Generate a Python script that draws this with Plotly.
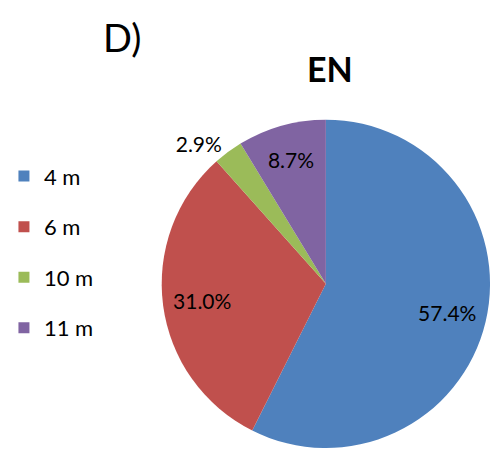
import plotly.graph_objects as go

labels = ["4 m", "6 m", "10 m", "11 m"]
values = [57.4, 31.0, 2.9, 8.7]
colors = ["#4F81BD", "#C0504D", "#9BBB59", "#8064A2"]
text_positions = ["inside", "inside", "outside", "inside"]

FONT = "Lato, 'Open Sans', sans-serif"
dom = dict(x=[162/499, 499/499], y=[0, 1 - 121/453])

fig = go.Figure()
# coloured slices
fig.add_trace(go.Pie(
    labels=labels, values=values, sort=False, direction="clockwise", rotation=0,
    marker=dict(colors=colors, line=dict(width=0)),
    textinfo="none", showlegend=False, hoverinfo="label+percent",
    domain=dom,
))
# transparent ring carrying the percentage labels further out
fig.add_trace(go.Pie(
    labels=labels, values=values, sort=False, direction="clockwise", rotation=0,
    hole=0.52,
    marker=dict(colors=["rgba(0,0,0,0)"] * len(labels), line=dict(width=0)),
    texttemplate="%{percent:.1%}", textposition=text_positions,
    insidetextorientation="horizontal",
    textfont=dict(family=FONT, size=21, color="black"),
    outsidetextfont=dict(family=FONT, size=21, color="black"),
    showlegend=False, hoverinfo="skip",
    domain=dom,
))
for lab, col in zip(labels, colors):
    fig.add_trace(go.Scatter(
        x=[None], y=[None], mode="markers", name=lab, legendgroup=lab,
        marker=dict(symbol="square", size=11, color=col),
    ))

fig.update_layout(
    width=499, height=453, margin=dict(l=0, r=0, t=0, b=0),
    paper_bgcolor="white", plot_bgcolor="white",
    font=dict(family=FONT, color="black"),
    xaxis=dict(visible=False), yaxis=dict(visible=False),
    legend=dict(x=4/499, y=1 - 157/453, xanchor="left", yanchor="top",
                font=dict(size=22, family=FONT), tracegroupgap=19,
                itemwidth=30, bgcolor="rgba(0,0,0,0)"),
    annotations=[
        dict(text="D)", x=124/499, y=1 - 37/453, xref="paper", yref="paper",
             showarrow=False, font=dict(size=38, family=FONT), xanchor="center", yanchor="middle"),
        dict(text="<b>EN</b>", x=335/499, y=1 - 69/453, xref="paper", yref="paper",
             showarrow=False, font=dict(size=34, family=FONT), xanchor="center", yanchor="middle"),
    ],
)
fig.write_html("out.html")
